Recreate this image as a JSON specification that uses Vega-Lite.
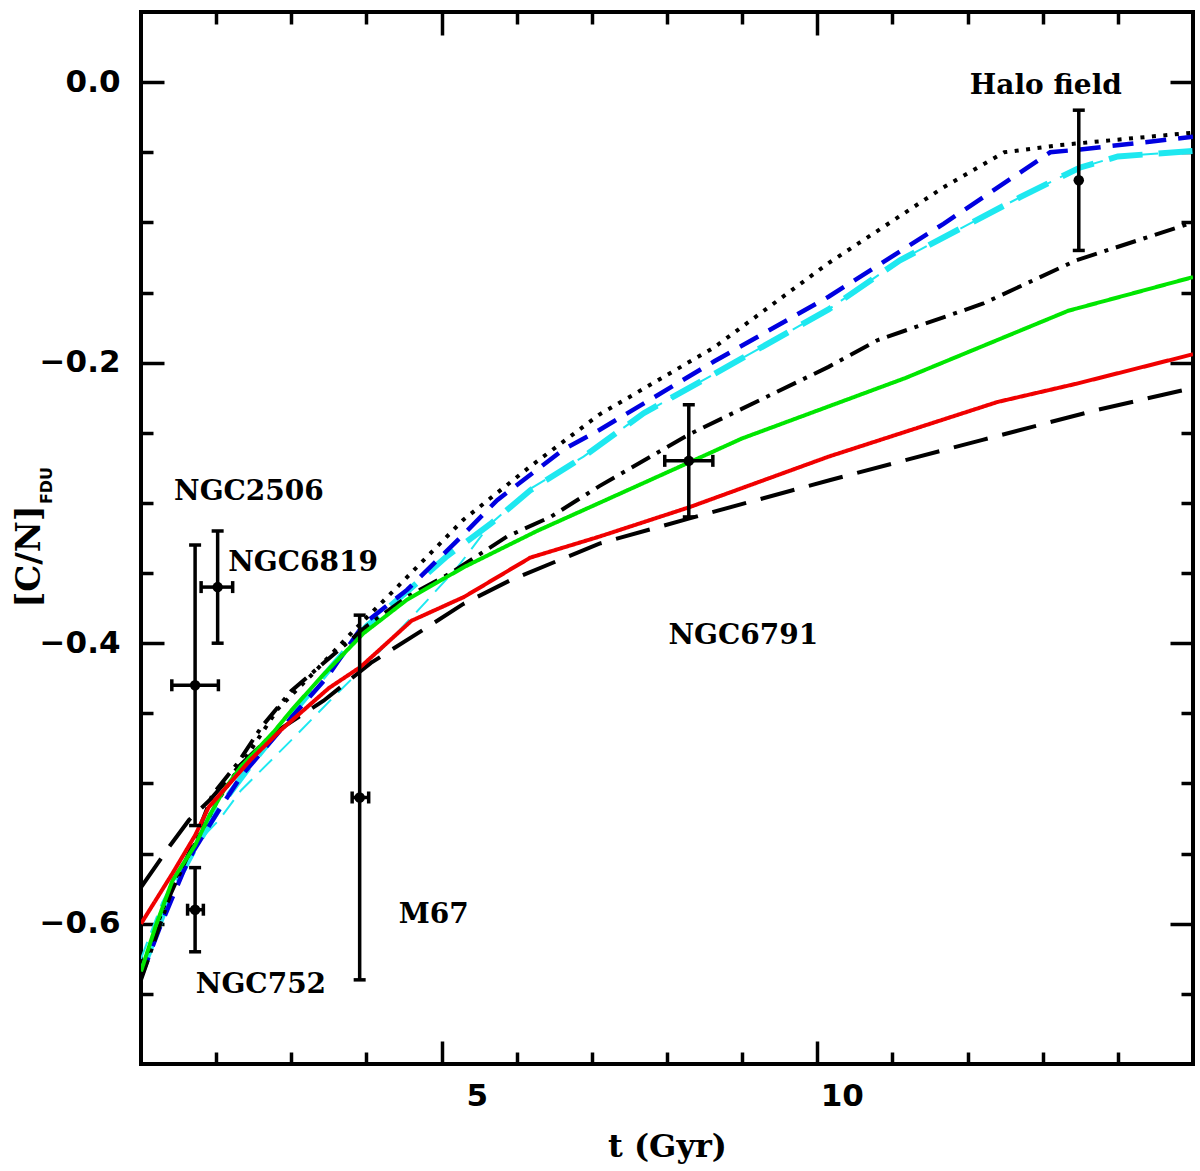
{
  "$schema": "https://vega.github.io/schema/vega-lite/v6.json",
  "width": 1052,
  "height": 1052,
  "autosize": "none",
  "padding": {"left": 141, "top": 12, "right": 7, "bottom": 107},
  "background": "white",
  "config": {
    "view": {"stroke": "black", "strokeWidth": 4},
    "axis": {
      "grid": false,
      "domain": false,
      "tickColor": "black",
      "tickWidth": 3.5,
      "labelColor": "black",
      "titleColor": "black",
      "labelFont": "DejaVu Sans",
      "labelFontWeight": "bold",
      "labelFontSize": 31,
      "labelOverlap": false,
      "labelFlush": false,
      "labelBound": false
    }
  },
  "datasets": {
    "curves": [
      {"series": "thin cyan", "t": 1.0, "cn": -0.625},
      {"series": "thin cyan", "t": 1.28, "cn": -0.585},
      {"series": "thin cyan", "t": 1.66, "cn": -0.547},
      {"series": "thin cyan", "t": 2.04, "cn": -0.526},
      {"series": "thin cyan", "t": 2.33, "cn": -0.505},
      {"series": "thin cyan", "t": 3.04, "cn": -0.467},
      {"series": "thin cyan", "t": 3.57, "cn": -0.438},
      {"series": "thin cyan", "t": 4.19, "cn": -0.405},
      {"series": "thin cyan", "t": 4.68, "cn": -0.377},
      {"series": "thin cyan", "t": 5.21, "cn": -0.346},
      {"series": "thin cyan", "t": 5.65, "cn": -0.315},
      {"series": "thin cyan", "t": 6.18, "cn": -0.29},
      {"series": "thin cyan", "t": 6.89, "cn": -0.267},
      {"series": "thin cyan", "t": 7.69, "cn": -0.236},
      {"series": "thin cyan", "t": 8.63, "cn": -0.208},
      {"series": "thin cyan", "t": 10.15, "cn": -0.162},
      {"series": "thin cyan", "t": 11.1, "cn": -0.127},
      {"series": "thin cyan", "t": 12.7, "cn": -0.082},
      {"series": "thin cyan", "t": 13.49, "cn": -0.061},
      {"series": "thin cyan", "t": 14.0, "cn": -0.053},
      {"series": "thin cyan", "t": 15.0, "cn": -0.049},

      {"series": "cyan", "t": 1.0, "cn": -0.636},
      {"series": "cyan", "t": 1.4, "cn": -0.578},
      {"series": "cyan", "t": 1.72, "cn": -0.546},
      {"series": "cyan", "t": 2.06, "cn": -0.516},
      {"series": "cyan", "t": 2.5, "cn": -0.484},
      {"series": "cyan", "t": 3.0, "cn": -0.451},
      {"series": "cyan", "t": 3.5, "cn": -0.419},
      {"series": "cyan", "t": 4.0, "cn": -0.388},
      {"series": "cyan", "t": 4.63, "cn": -0.359},
      {"series": "cyan", "t": 5.07, "cn": -0.338},
      {"series": "cyan", "t": 5.65, "cn": -0.315},
      {"series": "cyan", "t": 6.18, "cn": -0.291},
      {"series": "cyan", "t": 6.89, "cn": -0.267},
      {"series": "cyan", "t": 7.69, "cn": -0.236},
      {"series": "cyan", "t": 8.63, "cn": -0.208},
      {"series": "cyan", "t": 10.15, "cn": -0.162},
      {"series": "cyan", "t": 11.1, "cn": -0.127},
      {"series": "cyan", "t": 12.7, "cn": -0.082},
      {"series": "cyan", "t": 13.49, "cn": -0.061},
      {"series": "cyan", "t": 14.0, "cn": -0.053},
      {"series": "cyan", "t": 15.0, "cn": -0.049},

      {"series": "blue", "t": 1.0, "cn": -0.638},
      {"series": "blue", "t": 1.24, "cn": -0.604},
      {"series": "blue", "t": 1.57, "cn": -0.562},
      {"series": "blue", "t": 1.7, "cn": -0.548},
      {"series": "blue", "t": 2.06, "cn": -0.517},
      {"series": "blue", "t": 2.33, "cn": -0.495},
      {"series": "blue", "t": 3.0, "cn": -0.453},
      {"series": "blue", "t": 3.48, "cn": -0.424},
      {"series": "blue", "t": 3.97, "cn": -0.386},
      {"series": "blue", "t": 4.54, "cn": -0.362},
      {"series": "blue", "t": 5.3, "cn": -0.322},
      {"series": "blue", "t": 5.74, "cn": -0.298},
      {"series": "blue", "t": 6.62, "cn": -0.262},
      {"series": "blue", "t": 7.1, "cn": -0.248},
      {"series": "blue", "t": 8.63, "cn": -0.199},
      {"series": "blue", "t": 10.15, "cn": -0.153},
      {"series": "blue", "t": 11.68, "cn": -0.101},
      {"series": "blue", "t": 13.1, "cn": -0.05},
      {"series": "blue", "t": 13.5, "cn": -0.048},
      {"series": "blue", "t": 15.0, "cn": -0.039},

      {"series": "dotted", "t": 1.0, "cn": -0.636},
      {"series": "dotted", "t": 1.2, "cn": -0.603},
      {"series": "dotted", "t": 1.42, "cn": -0.571},
      {"series": "dotted", "t": 1.72, "cn": -0.543},
      {"series": "dotted", "t": 2.0, "cn": -0.514},
      {"series": "dotted", "t": 2.4, "cn": -0.481},
      {"series": "dotted", "t": 2.82, "cn": -0.447},
      {"series": "dotted", "t": 3.3, "cn": -0.421},
      {"series": "dotted", "t": 3.83, "cn": -0.391},
      {"series": "dotted", "t": 4.41, "cn": -0.36},
      {"series": "dotted", "t": 5.29, "cn": -0.312},
      {"series": "dotted", "t": 6.18, "cn": -0.274},
      {"series": "dotted", "t": 7.1, "cn": -0.237},
      {"series": "dotted", "t": 8.63, "cn": -0.189},
      {"series": "dotted", "t": 10.15, "cn": -0.129},
      {"series": "dotted", "t": 11.68, "cn": -0.075},
      {"series": "dotted", "t": 12.49, "cn": -0.05},
      {"series": "dotted", "t": 13.2, "cn": -0.045},
      {"series": "dotted", "t": 14.2, "cn": -0.04},
      {"series": "dotted", "t": 15.0, "cn": -0.036},

      {"series": "dash-dot", "t": 1.0, "cn": -0.64},
      {"series": "dash-dot", "t": 1.4, "cn": -0.578},
      {"series": "dash-dot", "t": 1.72, "cn": -0.54},
      {"series": "dash-dot", "t": 1.95, "cn": -0.508},
      {"series": "dash-dot", "t": 2.28, "cn": -0.486},
      {"series": "dash-dot", "t": 2.6, "cn": -0.46},
      {"series": "dash-dot", "t": 3.0, "cn": -0.434},
      {"series": "dash-dot", "t": 3.52, "cn": -0.41},
      {"series": "dash-dot", "t": 4.0, "cn": -0.388},
      {"series": "dash-dot", "t": 4.54, "cn": -0.367},
      {"series": "dash-dot", "t": 5.12, "cn": -0.35},
      {"series": "dash-dot", "t": 5.87, "cn": -0.324},
      {"series": "dash-dot", "t": 6.45, "cn": -0.31},
      {"series": "dash-dot", "t": 7.1, "cn": -0.288},
      {"series": "dash-dot", "t": 8.3, "cn": -0.251},
      {"series": "dash-dot", "t": 10.15, "cn": -0.203},
      {"series": "dash-dot", "t": 10.8, "cn": -0.184},
      {"series": "dash-dot", "t": 12.2, "cn": -0.158},
      {"series": "dash-dot", "t": 13.45, "cn": -0.127},
      {"series": "dash-dot", "t": 15.0, "cn": -0.1},

      {"series": "long dash", "t": 1.0, "cn": -0.574},
      {"series": "long dash", "t": 1.39, "cn": -0.544},
      {"series": "long dash", "t": 1.64, "cn": -0.526},
      {"series": "long dash", "t": 1.93, "cn": -0.511},
      {"series": "long dash", "t": 2.3, "cn": -0.488},
      {"series": "long dash", "t": 2.77, "cn": -0.464},
      {"series": "long dash", "t": 3.43, "cn": -0.441},
      {"series": "long dash", "t": 4.06, "cn": -0.414},
      {"series": "long dash", "t": 4.68, "cn": -0.393},
      {"series": "long dash", "t": 5.29, "cn": -0.372},
      {"series": "long dash", "t": 5.92, "cn": -0.355},
      {"series": "long dash", "t": 6.6, "cn": -0.34},
      {"series": "long dash", "t": 7.1, "cn": -0.329},
      {"series": "long dash", "t": 8.3, "cn": -0.311},
      {"series": "long dash", "t": 10.15, "cn": -0.284},
      {"series": "long dash", "t": 12.2, "cn": -0.255},
      {"series": "long dash", "t": 13.7, "cn": -0.234},
      {"series": "long dash", "t": 15.0, "cn": -0.218},

      {"series": "green", "t": 1.0, "cn": -0.634},
      {"series": "green", "t": 1.2, "cn": -0.601},
      {"series": "green", "t": 1.42, "cn": -0.569},
      {"series": "green", "t": 1.72, "cn": -0.544},
      {"series": "green", "t": 1.9, "cn": -0.524},
      {"series": "green", "t": 2.1, "cn": -0.505},
      {"series": "green", "t": 2.33, "cn": -0.488},
      {"series": "green", "t": 2.77, "cn": -0.463},
      {"series": "green", "t": 3.0, "cn": -0.448},
      {"series": "green", "t": 3.4, "cn": -0.424},
      {"series": "green", "t": 3.96, "cn": -0.393},
      {"series": "green", "t": 4.54, "cn": -0.369},
      {"series": "green", "t": 5.29, "cn": -0.346},
      {"series": "green", "t": 6.27, "cn": -0.32},
      {"series": "green", "t": 7.1, "cn": -0.3},
      {"series": "green", "t": 8.3, "cn": -0.271},
      {"series": "green", "t": 9.0, "cn": -0.254},
      {"series": "green", "t": 11.17, "cn": -0.211},
      {"series": "green", "t": 13.34, "cn": -0.163},
      {"series": "green", "t": 15.0, "cn": -0.139},

      {"series": "red", "t": 1.0, "cn": -0.6},
      {"series": "red", "t": 1.42, "cn": -0.564},
      {"series": "red", "t": 1.72, "cn": -0.537},
      {"series": "red", "t": 1.9, "cn": -0.517},
      {"series": "red", "t": 2.46, "cn": -0.483},
      {"series": "red", "t": 2.86, "cn": -0.462},
      {"series": "red", "t": 3.5, "cn": -0.432},
      {"series": "red", "t": 3.92, "cn": -0.417},
      {"series": "red", "t": 4.6, "cn": -0.384},
      {"series": "red", "t": 5.3, "cn": -0.367},
      {"series": "red", "t": 6.18, "cn": -0.339},
      {"series": "red", "t": 7.1, "cn": -0.324},
      {"series": "red", "t": 8.3, "cn": -0.303},
      {"series": "red", "t": 10.15, "cn": -0.267},
      {"series": "red", "t": 12.4, "cn": -0.228},
      {"series": "red", "t": 13.45, "cn": -0.215},
      {"series": "red", "t": 15.0, "cn": -0.194}
    ],
    "clusters": [
      {"name": "NGC752", "t": 1.72, "tlo": 1.62, "thi": 1.83, "cn": -0.59, "cnlo": -0.62, "cnhi": -0.56},
      {"name": "NGC2506", "t": 1.72, "tlo": 1.41, "thi": 2.03, "cn": -0.43, "cnlo": -0.53, "cnhi": -0.33},
      {"name": "NGC6819", "t": 2.02, "tlo": 1.8, "thi": 2.22, "cn": -0.36, "cnlo": -0.4, "cnhi": -0.32},
      {"name": "M67", "t": 3.91, "tlo": 3.81, "thi": 4.03, "cn": -0.51, "cnlo": -0.64, "cnhi": -0.38},
      {"name": "NGC6791", "t": 8.29, "tlo": 7.97, "thi": 8.61, "cn": -0.27, "cnlo": -0.31, "cnhi": -0.23},
      {"name": "Halo field", "t": 13.48, "tlo": null, "thi": null, "cn": -0.07, "cnlo": -0.12, "cnhi": -0.02}
    ],
    "labels": [
      {"text": "NGC2506", "t": 1.44, "cn": -0.292},
      {"text": "NGC6819", "t": 2.16, "cn": -0.343},
      {"text": "NGC752", "t": 1.73, "cn": -0.644},
      {"text": "M67", "t": 4.43, "cn": -0.594},
      {"text": "NGC6791", "t": 8.02, "cn": -0.395},
      {"text": "Halo field", "t": 12.03, "cn": -0.003}
    ]
  },
  "layer": [
    {
      "data": {"name": "curves"},
      "transform": [{"filter": "datum.series == 'thin cyan'"}],
      "mark": {"type": "line", "clip": true, "color": "#1ee8f0", "strokeWidth": 2, "strokeDash": [18, 10]},
      "encoding": {
        "x": {
          "field": "t", "type": "quantitative",
          "scale": {"domain": [1, 15], "nice": false, "zero": false},
          "axis": {
            "orient": "bottom", "values": [5, 10], "ticks": false, "tickSize": 0,
            "labelAlign": "right", "labelOffset": 46, "labelPadding": 17,
            "title": "t (Gyr)", "titleFont": "DejaVu Serif", "titleFontSize": 32,
            "titleFontWeight": "bold", "titleY": 82, "titleBaseline": "middle"
          }
        },
        "y": {
          "field": "cn", "type": "quantitative",
          "scale": {"domain": [-0.7, 0.05], "nice": false, "zero": false},
          "axis": {
            "orient": "left", "values": [-0.6, -0.4, -0.2, 0], "format": ".1f",
            "ticks": false, "tickSize": 0, "labelPadding": 21,
            "title": "[C/N]", "titleFont": "DejaVu Serif", "titleFontSize": 34,
            "titleFontWeight": "bold", "titleX": -112, "titleY": 544, "titleAngle": 270,
            "titleAlign": "center", "titleBaseline": "middle"
          }
        }
      }
    },
    {
      "data": {"name": "curves"},
      "transform": [{"filter": "datum.series == 'cyan'"}],
      "mark": {"type": "line", "clip": true, "color": "#1ee8f0", "strokeWidth": 6, "strokeDash": [34, 16]},
      "encoding": {
        "x": {"field": "t", "type": "quantitative", "scale": {"domain": [1, 15], "nice": false, "zero": false}, "axis": null},
        "y": {"field": "cn", "type": "quantitative", "scale": {"domain": [-0.7, 0.05], "nice": false, "zero": false}, "axis": null}
      }
    },
    {
      "data": {"name": "curves"},
      "transform": [{"filter": "datum.series == 'blue'"}],
      "mark": {"type": "line", "clip": true, "color": "#0000e0", "strokeWidth": 4.5, "strokeDash": [21, 12]},
      "encoding": {
        "x": {"field": "t", "type": "quantitative", "scale": {"domain": [1, 15], "nice": false, "zero": false}, "axis": null},
        "y": {"field": "cn", "type": "quantitative", "scale": {"domain": [-0.7, 0.05], "nice": false, "zero": false}, "axis": null}
      }
    },
    {
      "data": {"name": "curves"},
      "transform": [{"filter": "datum.series != 'thin cyan' && datum.series != 'cyan' && datum.series != 'blue'"}],
      "mark": {"type": "line", "clip": true, "strokeWidth": 4},
      "encoding": {
        "x": {"field": "t", "type": "quantitative", "scale": {"domain": [1, 15], "nice": false, "zero": false}, "axis": null},
        "y": {"field": "cn", "type": "quantitative", "scale": {"domain": [-0.7, 0.05], "nice": false, "zero": false}, "axis": null},
        "color": {
          "field": "series", "type": "nominal", "legend": null,
          "scale": {
            "domain": ["dotted", "dash-dot", "long dash", "green", "red"],
            "range": ["black", "black", "black", "#00e600", "#f00000"]
          }
        },
        "strokeDash": {
          "field": "series", "type": "nominal", "legend": null,
          "scale": {
            "domain": ["dotted", "dash-dot", "long dash", "green", "red"],
            "range": [[4, 7.5], [21, 8, 4, 8], [35, 15], [1, 0], [1, 0]]
          }
        }
      }
    },
    {
      "data": {"name": "clusters"},
      "mark": {"type": "rule", "color": "black", "strokeWidth": 3.5},
      "encoding": {
        "x": {
          "field": "t", "type": "quantitative",
          "scale": {"domain": [1, 15], "nice": false, "zero": false},
          "axis": {"orient": "bottom", "values": [5, 10], "labels": false, "tickSize": -23, "title": null}
        },
        "y": {
          "field": "cnlo", "type": "quantitative",
          "scale": {"domain": [-0.7, 0.05], "nice": false, "zero": false},
          "axis": {
            "orient": "left", "values": [-0.6, -0.4, -0.2, 0], "labels": false, "tickSize": -23,
            "title": "FDU", "titleFont": "DejaVu Sans", "titleFontSize": 16, "titleFontWeight": "bold",
            "titleX": -95, "titleY": 473, "titleAngle": 270, "titleAlign": "center", "titleBaseline": "middle"
          }
        },
        "y2": {"field": "cnhi"}
      }
    },
    {
      "data": {"name": "clusters"},
      "transform": [{"filter": "datum.tlo != null"}],
      "mark": {"type": "rule", "color": "black", "strokeWidth": 3.5},
      "encoding": {
        "x": {
          "field": "tlo", "type": "quantitative",
          "scale": {"domain": [1, 15], "nice": false, "zero": false},
          "axis": {"orient": "bottom", "values": [2, 3, 4, 6, 7, 8, 9, 11, 12, 13, 14], "labels": false, "tickSize": -12, "title": null}
        },
        "x2": {"field": "thi"},
        "y": {
          "field": "cn", "type": "quantitative",
          "scale": {"domain": [-0.7, 0.05], "nice": false, "zero": false},
          "axis": {"orient": "left", "values": [-0.65, -0.55, -0.5, -0.45, -0.35, -0.3, -0.25, -0.15, -0.1, -0.05], "labels": false, "tickSize": -12, "title": null}
        }
      }
    },
    {
      "data": {"name": "clusters"},
      "mark": {"type": "tick", "orient": "horizontal", "color": "black", "size": 12, "thickness": 3.5, "opacity": 1},
      "encoding": {
        "x": {
          "field": "t", "type": "quantitative",
          "scale": {"domain": [1, 15], "nice": false, "zero": false},
          "axis": {"orient": "top", "values": [5, 10], "labels": false, "tickSize": -23, "title": null}
        },
        "y": {
          "field": "cnlo", "type": "quantitative",
          "scale": {"domain": [-0.7, 0.05], "nice": false, "zero": false},
          "axis": {"orient": "right", "values": [-0.6, -0.4, -0.2, 0], "labels": false, "tickSize": -23, "title": null}
        }
      }
    },
    {
      "data": {"name": "clusters"},
      "mark": {"type": "tick", "orient": "horizontal", "color": "black", "size": 12, "thickness": 3.5, "opacity": 1},
      "encoding": {
        "x": {
          "field": "t", "type": "quantitative",
          "scale": {"domain": [1, 15], "nice": false, "zero": false},
          "axis": {"orient": "top", "values": [2, 3, 4, 6, 7, 8, 9, 11, 12, 13, 14], "labels": false, "tickSize": -12, "title": null}
        },
        "y": {
          "field": "cnhi", "type": "quantitative",
          "scale": {"domain": [-0.7, 0.05], "nice": false, "zero": false},
          "axis": {"orient": "right", "values": [-0.65, -0.55, -0.5, -0.45, -0.35, -0.3, -0.25, -0.15, -0.1, -0.05], "labels": false, "tickSize": -12, "title": null}
        }
      }
    },
    {
      "data": {"name": "clusters"},
      "transform": [{"filter": "datum.tlo != null"}],
      "mark": {"type": "tick", "orient": "vertical", "color": "black", "size": 12, "thickness": 3.5, "opacity": 1},
      "encoding": {
        "x": {"field": "tlo", "type": "quantitative", "scale": {"domain": [1, 15], "nice": false, "zero": false}, "axis": null},
        "y": {"field": "cn", "type": "quantitative", "scale": {"domain": [-0.7, 0.05], "nice": false, "zero": false}, "axis": null}
      }
    },
    {
      "data": {"name": "clusters"},
      "transform": [{"filter": "datum.thi != null"}],
      "mark": {"type": "tick", "orient": "vertical", "color": "black", "size": 12, "thickness": 3.5, "opacity": 1},
      "encoding": {
        "x": {"field": "thi", "type": "quantitative", "scale": {"domain": [1, 15], "nice": false, "zero": false}, "axis": null},
        "y": {"field": "cn", "type": "quantitative", "scale": {"domain": [-0.7, 0.05], "nice": false, "zero": false}, "axis": null}
      }
    },
    {
      "data": {"name": "clusters"},
      "mark": {"type": "circle", "color": "black", "size": 110, "opacity": 1},
      "encoding": {
        "x": {"field": "t", "type": "quantitative", "scale": {"domain": [1, 15], "nice": false, "zero": false}, "axis": null},
        "y": {"field": "cn", "type": "quantitative", "scale": {"domain": [-0.7, 0.05], "nice": false, "zero": false}, "axis": null}
      }
    },
    {
      "data": {"name": "labels"},
      "mark": {"type": "text", "align": "left", "baseline": "middle", "font": "DejaVu Serif", "fontWeight": "bold", "fontSize": 28, "color": "black"},
      "encoding": {
        "x": {"field": "t", "type": "quantitative", "scale": {"domain": [1, 15], "nice": false, "zero": false}, "axis": null},
        "y": {"field": "cn", "type": "quantitative", "scale": {"domain": [-0.7, 0.05], "nice": false, "zero": false}, "axis": null},
        "text": {"field": "text"}
      }
    }
  ],
  "resolve": {"axis": {"x": "independent", "y": "independent"}}
}
